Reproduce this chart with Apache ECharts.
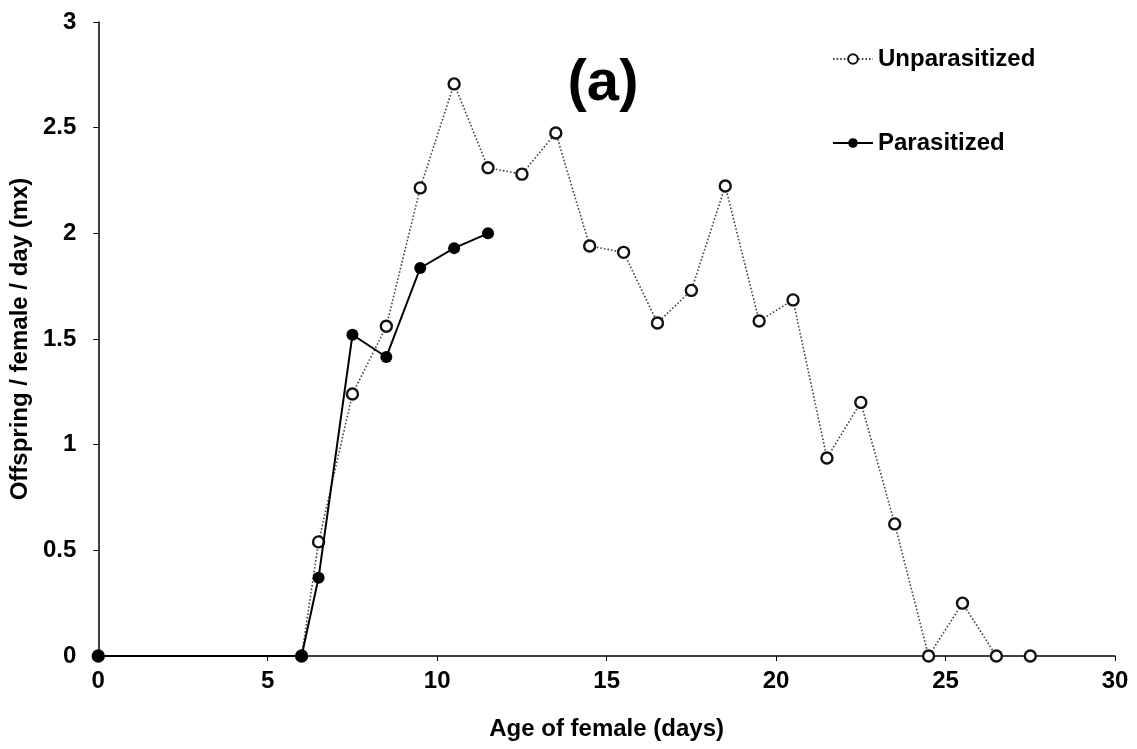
<!DOCTYPE html>
<html>
<head>
<meta charset="utf-8">
<script src="https://cdn.jsdelivr.net/npm/echarts@6/dist/echarts.min.js"></script>
<style>
  html, body { margin: 0; padding: 0; background: #fff; }
  #chart { width: 1137px; height: 749px; }
</style>
</head>
<body>
<div id="chart"></div>
<script>
// Age-specific fecundity (mx) of females
const unparAges = [0, 6, 6.5, 7.5, 8.5, 9.5, 10.5, 11.5, 12.5, 13.5, 14.5, 15.5, 16.5, 17.5, 18.5, 19.5, 20.5, 21.5, 22.5, 23.5, 24.5, 25.5, 26.5, 27.5];
const unparMx   = [0, 0, 0.54, 1.24, 1.56, 2.215, 2.707, 2.31, 2.28, 2.475, 1.94, 1.91, 1.576, 1.73, 2.224, 1.585, 1.685, 0.937, 1.20, 0.625, 0, 0.25, 0, 0];
const parAges   = [0, 6, 6.5, 7.5, 8.5, 9.5, 10.5, 11.5];
const parMx     = [0, 0, 0.37, 1.52, 1.415, 1.836, 1.93, 2.0];
const xTicks = [0, 5, 10, 15, 20, 25, 30];
const yTicks = [0, 0.5, 1, 1.5, 2, 2.5, 3];

const pairs = (xs, ys) => xs.map((x, i) => [x, ys[i]]);
const FONT = '"Liberation Sans", Arial, sans-serif';

const chart = echarts.init(document.getElementById('chart'));
chart.setOption({
  animation: false,
  backgroundColor: '#fff',
  title: {
    text: '(a)',
    left: 598, top: 50, textAlign: 'center',
    textStyle: { fontFamily: FONT, fontSize: 58, fontWeight: 'bold', color: '#000' }
  },
  legend: {
    orient: 'vertical',
    left: 827, top: 42,
    itemGap: 60,
    itemWidth: 40, itemHeight: 12,
    textStyle: { fontFamily: FONT, fontSize: 24, fontWeight: 'bold', color: '#000' },
    data: ['Unparasitized', 'Parasitized']
  },
  grid: { left: 97, right: 22, top: 22, bottom: 93, containLabel: false },
  xAxis: {
    type: 'value', min: 0, max: 30, interval: 5,
    name: 'Age of female (days)', nameLocation: 'middle', nameGap: 61,
    nameTextStyle: { fontFamily: FONT, fontSize: 24, fontWeight: 'bold', color: '#000' },
    axisLine: { lineStyle: { color: '#000', width: 1.5 } },
    axisTick: { show: true, length: 5, inside: false, lineStyle: { color: '#000' } },
    axisLabel: { fontFamily: FONT, fontSize: 24, fontWeight: 'bold', color: '#000', margin: 13,
      customValues: xTicks },
    splitLine: { show: false }
  },
  yAxis: {
    type: 'value', min: 0, max: 3, interval: 0.5,
    name: 'Offspring / female / day (mx)', nameLocation: 'middle', nameGap: 57,
    nameTextStyle: { fontFamily: FONT, fontSize: 24, fontWeight: 'bold', color: '#000' },
    axisLine: { show: true, lineStyle: { color: '#000', width: 1.5 } },
    axisTick: { show: true, length: 5, lineStyle: { color: '#000' } },
    axisLabel: { fontFamily: FONT, fontSize: 24, fontWeight: 'bold', color: '#000', margin: 22,
      customValues: yTicks },
    splitLine: { show: false }
  },
  series: [
    {
      name: 'Unparasitized', type: 'line',
      data: pairs(unparAges, unparMx),
      symbol: 'circle', symbolSize: 11,
      itemStyle: { color: '#fff', borderColor: '#111', borderWidth: 2.4 },
      lineStyle: { color: '#444', width: 1.6, type: [1.6, 2] },
      z: 2
    },
    {
      name: 'Parasitized', type: 'line',
      data: pairs(parAges, parMx),
      symbol: 'circle', symbolSize: 12,
      itemStyle: { color: '#000', borderColor: '#000', borderWidth: 0 },
      lineStyle: { color: '#000', width: 2 },
      z: 3
    }
  ]
});
</script>
</body>
</html>
